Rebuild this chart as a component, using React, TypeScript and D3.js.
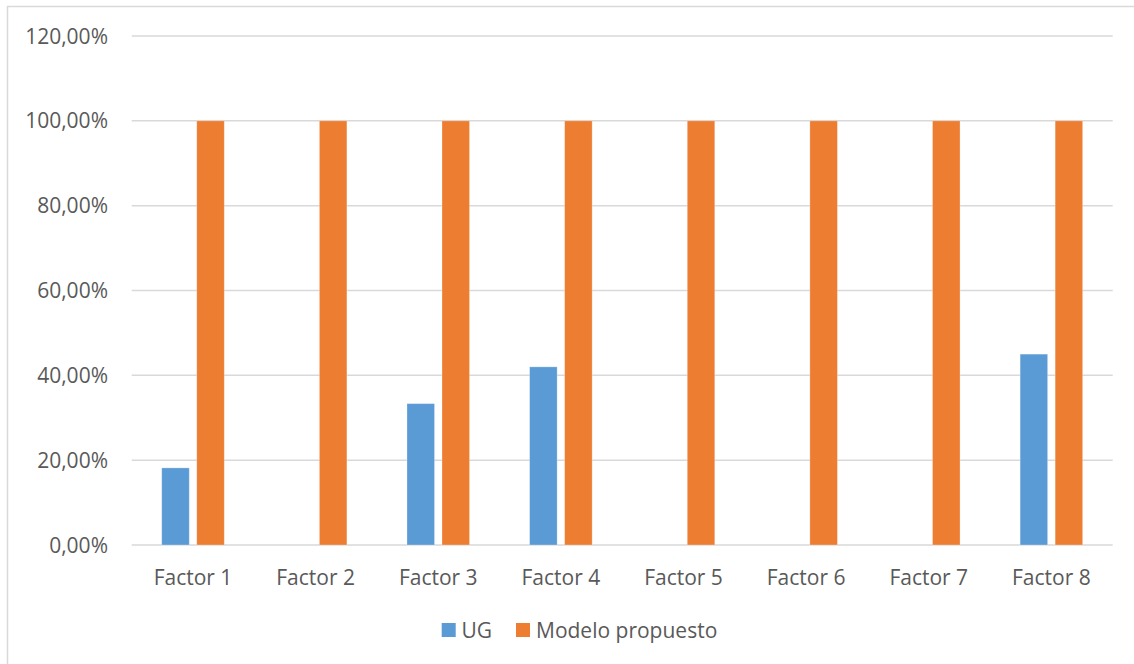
import React from "react";
import * as d3 from "d3";

const categories = ["Factor 1", "Factor 2", "Factor 3", "Factor 4", "Factor 5", "Factor 6", "Factor 7", "Factor 8"];
const ugValues = [18.18, 0, 33.33, 42, 0, 0, 0, 45];
const modeloValues = [100, 100, 100, 100, 100, 100, 100, 100];
const seriesNames = ["UG", "Modelo propuesto"];
const seriesColors = ["#5B9BD5", "#ED7D31"];
const yTicks = [0, 20, 40, 60, 80, 100, 120];

const W = 1134;
const H = 664;
const plot = { left: 131.7, right: 1112.7, top: 36, bottom: 545 };
const FONT = "'Open Sans', sans-serif";
const FS = 21;

export default function App() {
  const y = d3.scaleLinear().domain([0, 120]).range([plot.bottom, plot.top]);
  const x0 = d3.scaleBand<string>().domain(categories).range([plot.left, plot.right]).paddingInner(0.49).paddingOuter(0.245);
  const x1 = d3.scaleBand<string>().domain(seriesNames).range([0, x0.bandwidth()]).paddingInner(0.214);
  const step = (plot.right - plot.left) / categories.length;
  const series = [ugValues, modeloValues];
  const fmt = (v: number) => v.toFixed(2).replace(".", ",") + "%";

  const legendItems = [
    { name: seriesNames[0], sq: 441.7, tx: 461.5 },
    { name: seriesNames[1], sq: 516, tx: 536 },
  ];

  return (
    <svg width={W} height={H} style={{ position: "absolute", left: 0, top: 0, background: "#fff" }}>
      <rect x={7.5} y={6.5} width={W + 20} height={H + 20} fill="#fff" stroke="#d9d9d9" strokeWidth={1.5} />
      {yTicks.map((t) => (
        <g key={t}>
          <line x1={plot.left} x2={plot.right} y1={y(t)} y2={y(t)} stroke="#d9d9d9" strokeWidth={1.5} />
          <text x={108} y={y(t)} dy="0.36em" textAnchor="end" fontFamily={FONT} fontSize={FS} fill="#595959">
            {fmt(t)}
          </text>
        </g>
      ))}
      {categories.map((c, i) => (
        <g key={c}>
          {series.map((vals, s) =>
            vals[i] > 0 ? (
              <rect
                key={s}
                x={(x0(c) as number) + (x1(seriesNames[s]) as number)}
                y={y(vals[i])}
                width={x1.bandwidth()}
                height={y(0) - y(vals[i])}
                fill={seriesColors[s]}
                stroke="#fff"
                strokeOpacity={0.35}
                strokeWidth={0.8}
              />
            ) : null
          )}
          <text
            x={plot.left + step * (i + 0.5)}
            y={584.5}
            textAnchor="middle"
            fontFamily={FONT}
            fontSize={FS}
            fill="#595959"
          >
            {c}
          </text>
        </g>
      ))}
      {legendItems.map((l, i) => (
        <g key={l.name}>
          <rect x={l.sq} y={623} width={14} height={14} fill={seriesColors[i]} />
          <text x={l.tx} y={637.5} fontFamily={FONT} fontSize={FS} fill="#595959">
            {l.name}
          </text>
        </g>
      ))}
    </svg>
  );
}
